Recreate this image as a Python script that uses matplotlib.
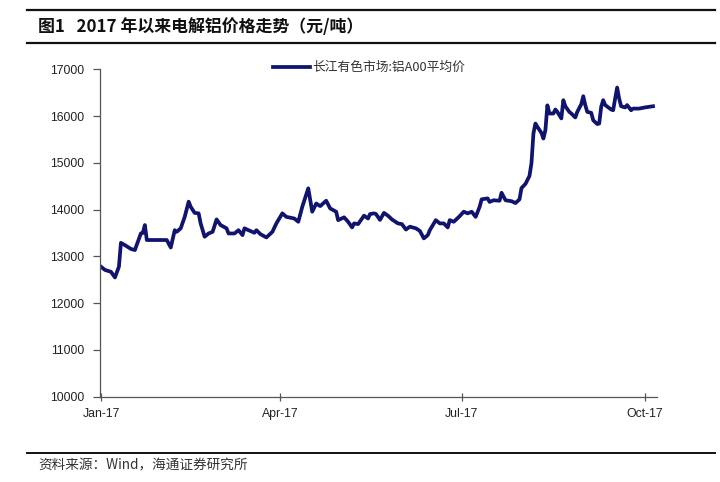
import matplotlib
matplotlib.use("Agg")
import matplotlib.pyplot as plt
import matplotlib.dates as mdates
from matplotlib.lines import Line2D
import pandas as pd

dates = [
    "2017-01-01", "2017-01-03", "2017-01-06", "2017-01-08", "2017-01-10", "2017-01-11",
    "2017-01-13", "2017-01-16", "2017-01-18", "2017-01-21", "2017-01-22", "2017-01-23",
    "2017-01-24", "2017-01-31", "2017-02-03", "2017-02-05", "2017-02-07", "2017-02-08",
    "2017-02-10", "2017-02-12", "2017-02-14", "2017-02-15", "2017-02-17", "2017-02-19",
    "2017-02-20", "2017-02-22", "2017-02-24", "2017-02-26", "2017-02-28", "2017-03-02",
    "2017-03-05", "2017-03-06", "2017-03-09", "2017-03-11", "2017-03-13", "2017-03-14",
    "2017-03-16", "2017-03-19", "2017-03-20", "2017-03-22", "2017-03-25", "2017-03-28",
    "2017-03-30", "2017-04-02", "2017-04-04", "2017-04-08", "2017-04-10", "2017-04-12",
    "2017-04-15", "2017-04-16", "2017-04-17", "2017-04-19", "2017-04-21", "2017-04-24",
    "2017-04-26", "2017-04-29", "2017-04-30", "2017-05-03", "2017-05-05", "2017-05-07",
    "2017-05-08", "2017-05-10", "2017-05-13", "2017-05-15", "2017-05-16", "2017-05-18",
    "2017-05-19", "2017-05-21", "2017-05-23", "2017-05-25", "2017-05-27", "2017-05-30",
    "2017-06-01", "2017-06-03", "2017-06-05", "2017-06-08", "2017-06-10", "2017-06-12",
    "2017-06-14", "2017-06-15", "2017-06-18", "2017-06-20", "2017-06-22", "2017-06-24",
    "2017-06-25", "2017-06-27", "2017-06-30", "2017-07-02", "2017-07-04", "2017-07-06",
    "2017-07-08", "2017-07-10", "2017-07-11", "2017-07-14", "2017-07-15", "2017-07-17",
    "2017-07-20", "2017-07-21", "2017-07-23", "2017-07-26", "2017-07-28", "2017-07-30",
    "2017-07-31", "2017-08-02", "2017-08-04", "2017-08-05", "2017-08-06", "2017-08-07",
    "2017-08-08", "2017-08-10", "2017-08-11", "2017-08-12", "2017-08-13", "2017-08-14",
    "2017-08-16", "2017-08-17", "2017-08-18", "2017-08-20", "2017-08-21", "2017-08-22",
    "2017-08-24", "2017-08-25", "2017-08-27", "2017-08-28", "2017-08-30", "2017-08-31",
    "2017-09-01", "2017-09-02", "2017-09-04", "2017-09-05", "2017-09-07", "2017-09-08",
    "2017-09-09", "2017-09-10", "2017-09-11", "2017-09-14", "2017-09-15", "2017-09-16",
    "2017-09-17", "2017-09-18", "2017-09-19", "2017-09-21", "2017-09-22", "2017-09-24",
    "2017-09-25", "2017-09-28", "2017-10-01", "2017-10-05",
]

prices = [
    12780, 12710, 12670, 12550, 12780, 13290,
    13240, 13160, 13135, 13490, 13500, 13670,
    13350, 13350, 13350, 13190, 13560, 13525,
    13600, 13845, 14170, 14060, 13930, 13920,
    13705, 13420, 13490, 13525, 13790, 13670,
    13600, 13490, 13490, 13560, 13455, 13600,
    13560, 13505, 13560, 13475, 13405, 13525,
    13705, 13920, 13845, 13810, 13740, 14060,
    14455, 14200, 13955, 14130, 14075, 14190,
    14025, 13955, 13775, 13835, 13740, 13620,
    13705, 13690, 13870, 13810, 13905, 13920,
    13905, 13780, 13930, 13870, 13790, 13705,
    13690, 13575, 13635, 13600, 13545, 13385,
    13455, 13560, 13775, 13705, 13705, 13620,
    13775, 13740, 13860, 13955, 13920, 13955,
    13845, 14060, 14220, 14240, 14165, 14200,
    14190, 14360, 14200, 14180, 14140, 14220,
    14460, 14550, 14720, 14990, 15630, 15840,
    15770, 15640, 15520, 15700, 16230, 16055,
    16055, 16140, 16090, 15950, 16340, 16210,
    16090, 16055, 15970, 16090, 16255, 16425,
    16235, 16090, 16070, 15910, 15830, 15840,
    16200, 16340, 16235, 16140, 16125, 16375,
    16610, 16375, 16210, 16185, 16235, 16125,
    16160, 16160, 16185, 16210,
]

series_name = "长江有色市场:铝A00平均价"
title_text = "图1   2017 年以来电解铝价格走势（元/吨）"
source_text = "资料来源：Wind，海通证券研究所"
y_ticks = [10000, 11000, 12000, 13000, 14000, 15000, 16000, 17000]
x_ticks = ["2017-01-01", "2017-04-01", "2017-07-01", "2017-10-01"]

CJK = ["Noto Sans CJK SC", "DejaVu Sans"]
LAT = ["Liberation Sans", "DejaVu Sans"]
W, H = 720, 482

fig = plt.figure(figsize=(7.2, 4.82), dpi=100)
ax = fig.add_axes([100 / W, 1 - 396.7 / H, (657 - 100) / W, (396.7 - 69.3) / H])

x = pd.to_datetime(dates)
line, = ax.plot(x, prices, color="#10146e", linewidth=2.7, solid_joinstyle="round",
                label=series_name)

ax.set_ylim(10000, 17000)
ax.set_yticks(y_ticks)
ax.set_xlim(pd.Timestamp("2016-12-31 12:00"), pd.Timestamp("2017-10-07"))
ax.set_xticks(pd.to_datetime(x_ticks))
ax.xaxis.set_major_formatter(mdates.DateFormatter("%b-%y"))

for s in ["top", "right"]:
    ax.spines[s].set_visible(False)
for s in ["left", "bottom"]:
    ax.spines[s].set_color("#555555")
    ax.spines[s].set_linewidth(0.9)

ax.tick_params(axis="y", direction="out", length=5, width=0.9, color="#555555",
               pad=6, labelsize=8.8, labelcolor="#222222")
ax.tick_params(axis="x", direction="inout", length=6, width=0.9, color="#555555",
               pad=5, labelsize=8.8, labelcolor="#222222")
for lab in ax.get_xticklabels() + ax.get_yticklabels():
    lab.set_family(LAT)

leg = fig.legend(handles=[line], loc="center left",
                 bbox_to_anchor=(273 / W, 1 - 67.7 / H), frameon=False,
                 handlelength=2.9, handletextpad=0.15, borderpad=0, borderaxespad=0,
                 prop={"family": CJK, "size": 9.2})
for t in leg.get_texts():
    t.set_color("#333333")

# header / footer rules
for yy, lw in [(10, 1.6), (42.7, 1.6), (452.7, 1.4)]:
    fig.add_artist(Line2D([27 / W, 715 / W], [1 - yy / H, 1 - yy / H],
                          color="#111111", linewidth=lw, transform=fig.transFigure))

fig.text(38 / W, 1 - 26.7 / H, title_text, ha="left", va="center",
         family=CJK, fontsize=12.2, fontweight="bold", color="#111111")
fig.text(38 / W, 1 - 465 / H, source_text, ha="left", va="center",
         family=CJK, fontsize=9.8, color="#333333")

fig.savefig("out.png", dpi=100, facecolor="white")
